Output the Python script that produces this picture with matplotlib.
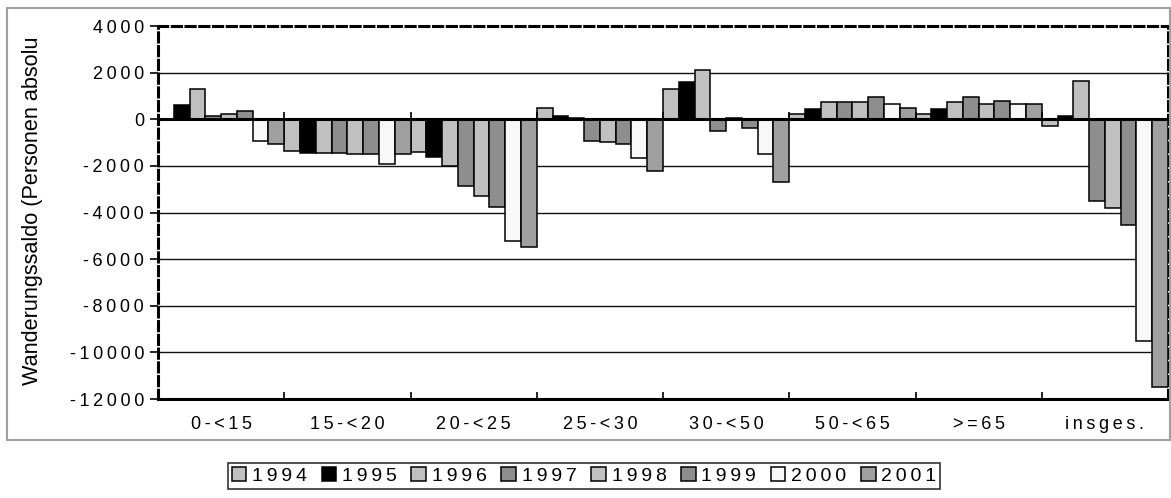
import matplotlib
matplotlib.use("Agg")
import matplotlib.pyplot as plt
import numpy as np
from matplotlib.patches import Rectangle

plt.rcParams['font.family'] = ['Liberation Sans', 'DejaVu Sans']

# Wanderungssaldo nach Altersgruppen, 1994-2001
categories = ['0-<15', '15-<20', '20-<25', '25-<30', '30-<50', '50-<65', '>=65', 'insges.']
years = ['1994', '1995', '1996', '1997', '1998', '1999', '2000', '2001']

saldo_1994 = [0, -1350, -1410, 480, 1290, 220, 220, -310]
saldo_1995 = [600, -1430, -1600, 150, 1590, 440, 440, 160]
saldo_1996 = [1290, -1430, -1990, 70, 2100, 760, 740, 1660]
saldo_1997 = [120, -1430, -2870, -920, -490, 760, 940, -3520]
saldo_1998 = [235, -1500, -3300, -990, 70, 760, 660, -3790]
saldo_1999 = [340, -1500, -3780, -1070, -390, 940, 780, -4530]
saldo_2000 = [-920, -1930, -5230, -1670, -1500, 660, 640, -9500]
saldo_2001 = [-1070, -1500, -5500, -2200, -2700, 490, 660, -11500]

series = [saldo_1994, saldo_1995, saldo_1996, saldo_1997,
          saldo_1998, saldo_1999, saldo_2000, saldo_2001]
colors = ['#C0C0C0', '#000000', '#C0C0C0', '#8E8E8E',
          '#C0C0C0', '#8E8E8E', '#F8F8F8', '#A0A0A0']

yticks = list(range(-12000, 4001, 2000))


def spaced(s, sep):
    return sep.join(s)


fig = plt.figure(figsize=(11.71, 4.98), dpi=100)
ax = fig.add_axes([158 / 1171, 1 - 399 / 498, 1010 / 1171, 373 / 498])

# light gray frame around the chart area
fig.patches.append(Rectangle((7 / 1171, 1 - 440 / 498), 1163 / 1171, 432 / 498,
                             transform=fig.transFigure, fill=False,
                             edgecolor='#A0A0A0', linewidth=1.5))

n = len(years)
w = 1.0 / n
x = np.arange(len(categories))
handles = []
for j, (vals, c) in enumerate(zip(series, colors)):
    b = ax.bar(x + (j - (n - 1) / 2) * w, vals, width=w, color=c,
               edgecolor='black', linewidth=1.1, zorder=3)
    handles.append(b)

ax.set_xlim(-0.5, len(categories) - 0.5)
ax.set_ylim(-12000, 4000)

# horizontal grid
for yv in yticks[1:-1]:
    ax.axhline(yv, color='#111111', linewidth=1.0, zorder=1)
ax.axhline(0, color='black', linewidth=2.2, zorder=4)

# group separators on the zero line
bounds = np.arange(len(categories) + 1) - 0.5
ax.vlines(bounds[1:-1], 0, 300, color='black', linewidth=1.2, zorder=4)

ax.set_yticks(yticks)
ax.set_yticklabels([spaced(str(v), '\u2009') for v in yticks], fontsize=13)
ax.tick_params(axis='y', direction='out', length=6, width=1.2, pad=4)

ax.set_xticks(x)
ax.set_xticklabels([spaced(c, '\u2009') for c in categories], fontsize=13)
ax.tick_params(axis='x', length=0, pad=12)
ax.set_xticks(bounds, minor=True)
ax.tick_params(axis='x', which='minor', direction='in', length=5, width=1.2)

for side in ['left', 'top', 'right']:
    ax.spines[side].set_linestyle((0, (3, 1.5)))
    ax.spines[side].set_linewidth(2.2)
ax.spines['bottom'].set_linewidth(2.2)

ylab = fig.text(33 / 1171, 1 - 385 / 498, 'Wanderungssaldo (Personen absolut)',
                rotation=90, ha='center', va='bottom', fontsize=15.6)
clip = Rectangle((0, 0), 1, 1 - 39 / 498, transform=fig.transFigure)
ylab.set_clip_path(clip)

leg = fig.legend(handles, [spaced(y, '\u2009') for y in years],
                 loc='center', bbox_to_anchor=(584 / 1171, 1 - 476 / 498),
                 ncol=8, fontsize=14, frameon=True, fancybox=False,
                 edgecolor='black', handlelength=0.75, handleheight=0.75,
                 handletextpad=0.3, columnspacing=0.75, borderpad=0.2,
                 borderaxespad=0)
leg.get_frame().set_linewidth(1.2)

fig.savefig('out.png', dpi=100)
